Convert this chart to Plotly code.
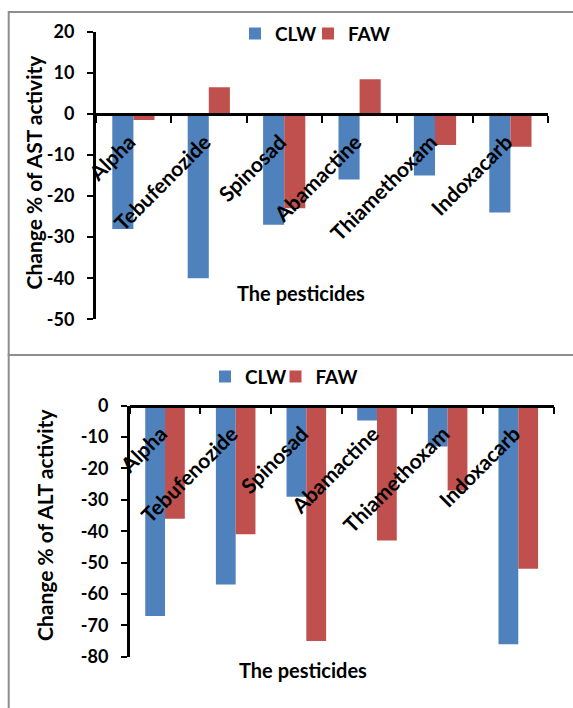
import plotly.graph_objects as go

categories = ["Alpha", "Tebufenozide", "Spinosad", "Abamactine", "Thiamethoxam", "Indoxacarb"]
ast_clw = [-28, -40, -27, -16, -15, -24]
ast_faw = [-1.5, 6.5, -23, 8.4, -7.6, -8]
alt_clw = [-67, -57, -29, -4.7, -13, -76]
alt_faw = [-36, -41, -75, -43, -27, -52]
ast_ticks = [20, 10, 0, -10, -20, -30, -40, -50]
alt_ticks = [0, -10, -20, -30, -40, -50, -60, -70, -80]
series_names = ["CLW", "FAW"]
colors = ["#4F81BD", "#C0504D"]

W, H = 573, 708
def px(x): return x / W
def py(y): return 1 - y / H

FONT = dict(family="Lato", size=20, color="black", weight="bold")
TITLEFONT = dict(family="Lato", size=21, color="black", weight="bold")
TICKFONT = dict(family="Lato", size=18, color="black", weight="bold")
CATFONT = dict(family="Lato", size=21, color="black", weight="bold")
LEGFONT = dict(family="Lato", size=19, color="black", weight="bold")

fig = go.Figure()
for name, vals, c, lg in zip(series_names, [ast_clw, ast_faw], colors, ["legend", "legend3"]):
    fig.add_trace(go.Bar(x=categories, y=vals, name=name, marker=dict(color=c, line=dict(width=0)),
                         xaxis="x", yaxis="y", legend=lg))
for name, vals, c, lg in zip(series_names, [alt_clw, alt_faw], colors, ["legend2", "legend4"]):
    fig.add_trace(go.Bar(x=categories, y=vals, name=name, marker=dict(color=c, line=dict(width=0)),
                         xaxis="x2", yaxis="y2", legend=lg))

top_range = [min(ast_ticks), max(ast_ticks)]
bot_range = [min(alt_ticks), max(alt_ticks)]
top_dom = [py(319.3), py(31.7)]
bot_dom = [py(656.7), py(405.7)]
top_zero = top_dom[0] + (0 - top_range[0]) / (top_range[1] - top_range[0]) * (top_dom[1] - top_dom[0])
bot_zero = bot_dom[0] + (0 - bot_range[0]) / (bot_range[1] - bot_range[0]) * (bot_dom[1] - bot_dom[0])

xcommon = dict(type="category", showline=True, linecolor="black", linewidth=2.5,
               ticks="outside", tickson="boundaries", ticklen=7, tickwidth=2, tickcolor="black",
               tickangle=-45, tickfont=CATFONT, showgrid=False, zeroline=False,
               anchor="free", range=[-0.5, 5.5], ticklabelstandoff=6, ticklabelshift=-4,
               automargin=False)
ycommon = dict(showline=True, linecolor="black", linewidth=2.5, ticks="outside", ticklen=6,
               tickwidth=2, tickcolor="black", tickfont=TICKFONT, showgrid=False, zeroline=False,
               ticklabelstandoff=9, automargin=False)

def leg(x, y):
    return dict(orientation="h", x=px(x), y=py(y), xanchor="left", yanchor="middle",
                font=LEGFONT, bgcolor="rgba(0,0,0,0)", itemwidth=30)

fig.update_layout(
    width=W, height=H, margin=dict(l=0, r=0, t=0, b=0, pad=0, autoexpand=False),
    paper_bgcolor="white", plot_bgcolor="white",
    font=FONT, barmode="group", bargap=0.44, bargroupgap=0,
    xaxis=dict(domain=[px(95.7), px(548.1)], position=top_zero, **xcommon),
    yaxis=dict(domain=top_dom, range=top_range, anchor="x", tickmode="array",
               tickvals=ast_ticks, ticktext=[str(v) for v in ast_ticks], **ycommon),
    xaxis2=dict(domain=[px(129.7), px(553.6)], position=bot_zero, **xcommon),
    yaxis2=dict(domain=bot_dom, range=bot_range, anchor="x2", tickmode="array",
                tickvals=alt_ticks, ticktext=[str(v) for v in alt_ticks], **ycommon),
    legend=leg(235, 33.7),
    legend3=leg(308, 33.7),
    legend2=leg(205, 376.7),
    legend4=leg(275.5, 376.7),
    showlegend=True,
)

annots = [
    dict(text="Change % of AST activity", x=px(33), y=py(172.5), textangle=-90),
    dict(text="Change % of ALT activity", x=px(43.9), y=py(525), textangle=-90),
    dict(text="The pesticides", x=px(300.5), y=py(292.7)),
    dict(text="The pesticides", x=px(303.3), y=py(670)),
]
for i, a in enumerate(annots):
    fig.add_annotation(xref="paper", yref="paper", showarrow=False,
                       font=TITLEFONT if i < 2 else FONT,
                       xanchor="center", yanchor="middle", **a)

border = "#8E8E8E"
fig.add_shape(type="rect", xref="paper", yref="paper", x0=px(8.7), x1=px(590), y0=py(12), y1=py(355),
              line=dict(color=border, width=2))
fig.add_shape(type="rect", xref="paper", yref="paper", x0=px(8.7), x1=px(590), y0=py(355), y1=py(730),
              line=dict(color=border, width=2))

fig.write_html("out.html")
